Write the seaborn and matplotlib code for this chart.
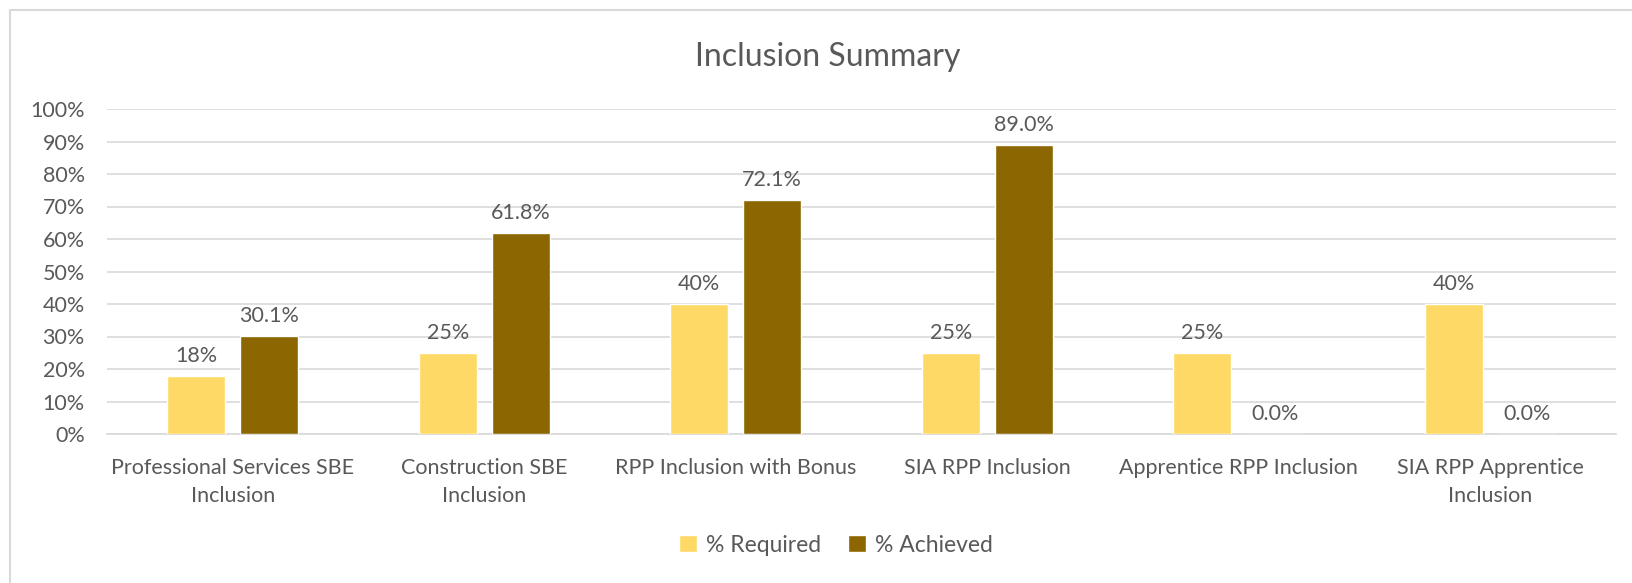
import matplotlib
matplotlib.use("Agg")
import matplotlib.pyplot as plt
import matplotlib.ticker as mticker
from matplotlib.patches import Rectangle
import pandas as pd
import seaborn as sns

categories = [
    "Professional Services SBE\nInclusion",
    "Construction SBE\nInclusion",
    "RPP Inclusion with Bonus",
    "SIA RPP Inclusion",
    "Apprentice RPP Inclusion",
    "SIA RPP Apprentice\nInclusion",
]
required = [18, 25, 40, 25, 25, 40]
achieved = [30.1, 61.8, 72.1, 89.0, 0.0, 0.0]
series = ["% Required", "% Achieved"]
colors = ["#FFD966", "#8C6600"]
y_ticks = list(range(0, 101, 10))

df = pd.DataFrame({
    "category": categories * 2,
    "series": [series[0]] * len(categories) + [series[1]] * len(categories),
    "value": required + achieved,
})

sns.set_theme(style="white")
plt.rcParams["font.family"] = ["Lato", "DejaVu Sans"]
text_color = "#595959"
grid_color = "#D9D9D9"
fs = 15.5

W, H = 1633, 583
fig = plt.figure(figsize=(W / 100, H / 100), dpi=100)
fig.patch.set_facecolor("white")

# outer chart border (right/bottom edges fall outside the image)
fig.add_artist(Rectangle((10 / W, -0.1), 1.2, 1 - 10 / H + 0.1, transform=fig.transFigure,
                         fill=False, edgecolor=grid_color, linewidth=1.5))

left, right, top, bottom = 107, 1616, 109, 434
ax = fig.add_axes([left / W, 1 - bottom / H, (right - left) / W, (bottom - top) / H])

sns.barplot(data=df, x="category", y="value", hue="series", palette=colors,
            saturation=1, width=0.58, gap=0.21, ax=ax, legend=True, zorder=3)

ax.set_ylim(0, 100)
ax.set_yticks(y_ticks)
ax.yaxis.set_major_formatter(mticker.FuncFormatter(lambda v, _: f"{v:.0f}%"))
ax.grid(axis="y", color=grid_color, linewidth=1.2, zorder=0)
ax.set_axisbelow(True)
for s in ["top", "right", "left"]:
    ax.spines[s].set_visible(False)
ax.spines["bottom"].set_color(grid_color)
ax.spines["bottom"].set_linewidth(1.2)
ax.tick_params(axis="both", length=0, colors=text_color, labelsize=fs)
ax.tick_params(axis="x", pad=17)
ax.tick_params(axis="y", pad=16)
for lbl in ax.get_xticklabels():
    lbl.set_linespacing(1.5)
ax.set_xlabel("")
ax.set_ylabel("")
ax.set_xlim(-0.5, len(categories) - 0.5)

ax.bar_label(ax.containers[0], labels=[f"{v:.0f}%" for v in required],
             padding=7, fontsize=fs, color=text_color)
ax.bar_label(ax.containers[1], labels=[f"{v:.1f}%" for v in achieved],
             padding=7, fontsize=fs, color=text_color)

ax.legend_.remove()
handles = [Rectangle((0, 0), 1, 1, facecolor=c) for c in colors]
fig.legend(handles, series, loc="center", bbox_to_anchor=(0.512, 1 - 545 / H), ncol=2,
           frameon=False, fontsize=16.5, labelcolor=text_color, handlelength=0.75,
           handleheight=0.75, handletextpad=0.4, columnspacing=1.2)

fig.text(0.507, 1 - 57 / H, "Inclusion Summary", ha="center", va="center",
         fontsize=23, color=text_color)

fig.savefig("out.png", dpi=100, facecolor="white")
